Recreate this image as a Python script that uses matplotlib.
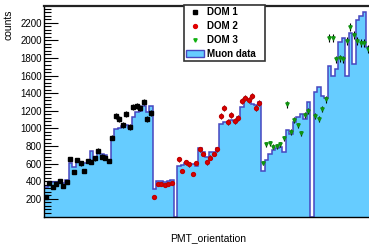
import matplotlib
matplotlib.use("Agg")
import matplotlib.pyplot as plt
import numpy as np
from matplotlib.lines import Line2D
from matplotlib.patches import Patch

plt.rcParams["font.family"] = ["Liberation Sans", "DejaVu Sans"]

# muon histogram, read bin by bin (0 = empty bin between the groups)
muon_g1 = [338, 394, 394, 394, 390, 380, 413, 603, 565, 630, 620, 603, 610, 746, 640, 717,
           710, 695, 645, 887, 990, 1000, 1027, 1040, 1010, 1133, 1190, 1200, 1254, 1190, 1254]
muon_g2 = [311, 400, 402, 395, 402, 420]
muon_g3 = [576, 585, 603, 596, 596, 570, 773, 735, 671, 735, 735, 773, 1050, 1070, 1075, 1100,
           1085, 1130, 1245, 1340, 1320, 1275, 1270, 1300]
muon_g4 = [520, 640, 710, 755, 775, 785, 735, 980, 935, 1075, 1135, 1165, 1110, 1295]
muon_g5 = [1410, 1475, 1368, 1342, 1709, 1600, 1675, 1980, 2030, 1600, 2080, 1730, 2230, 2280,
           2325, 1930]

dom1 = [217, 376, 331, 365, 405, 345, 394, 652, 508, 641, 603, 520, 633, 622, 660, 746, 678,
        667, 633, 894, 1144, 1110, 1042, 1163, 1019, 1239, 1258, 1228, 1303, 1103, 1178]
dom2_g2 = [226, 368, 368, 362, 365, 383]
dom2_g3 = [649, 520, 615, 592, 478, 610, 762, 709, 615, 667, 709, 762, 1144, 1235, 1069, 1152,
           1087, 1114, 1311, 1348, 1322, 1368, 1235, 1285]
dom3_g4 = [610, 822, 830, 792, 800, 822, 887, 1273, 959, 1095, 1035, 944, 1152, 1197]
dom3_g5 = [1140, 1103, 1216, 1330, 2030, 2023, 1785, 1796, 1785, 1996, 2148, 2061, 1996, 1973,
           1973, 1898]

y_ticks = [200, 400, 600, 800, 1000, 1200, 1400, 1600, 1800, 2000, 2200]

muon = np.array(muon_g1 + muon_g2 + [0] + muon_g3 + muon_g4 + [0] + muon_g5, dtype=float)
edges = np.arange(len(muon) + 1)
centers = edges[:-1] + 0.5

# bin positions of each DOM's points
n1, n2, n3, n4 = len(muon_g1), len(muon_g2), len(muon_g3), len(muon_g4)
s3 = n1 + n2 + 1
s5 = s3 + n3 + n4 + 1
x_dom1 = centers[:n1]
x_dom2 = np.concatenate([centers[n1:n1 + n2], centers[s3:s3 + n3]])
x_dom3 = np.concatenate([centers[s3 + n3:s3 + n3 + n4], centers[s5:]])
y_dom2 = np.array(dom2_g2 + dom2_g3, dtype=float)
y_dom3 = np.array(dom3_g4 + dom3_g5, dtype=float)
y_dom1 = np.array(dom1, dtype=float)

fig = plt.figure(figsize=(3.69, 2.44), dpi=100)
ax = fig.add_axes([44 / 369, 27.5 / 244, 94 * 3.5 / 369, 210.5 / 244])

fill_c = "#66ccff"
edge_c = "#4646c0"
ax.stairs(muon, edges, fill=True, color=fill_c, zorder=1)
ax.stairs(muon, edges, baseline=0, color=edge_c, lw=1.1, zorder=2)

ax.errorbar(x_dom1, y_dom1, yerr=np.sqrt(y_dom1), fmt="s", ms=3.2, color="black",
            ecolor="black", elinewidth=0.8, capsize=0, zorder=4)
ax.errorbar(x_dom2, y_dom2, yerr=np.sqrt(y_dom2), fmt="o", ms=2.8, color="#e00000",
            mec="#c00000", ecolor="#400000", elinewidth=0.8, capsize=0, zorder=4)
ax.errorbar(x_dom3, y_dom3, yerr=np.sqrt(y_dom3), fmt="v", ms=2.4, color="#10b010",
            mec="#109010", ecolor="black", elinewidth=0.8, capsize=0, zorder=4)

ax.set_xlim(0, 94)
ax.set_ylim(0, 2390)
ax.set_xticks([])
ax.set_yticks(y_ticks)
ax.set_yticks(np.arange(40, 2390, 40), minor=True)
ax.tick_params(axis="y", which="major", direction="in", length=10, width=0.8, labelsize=7, pad=1.5)
ax.tick_params(axis="y", which="minor", direction="in", length=5, width=0.8)
for side in ["left", "bottom"]:
    ax.spines[side].set_linewidth(1.0)
ax.spines["top"].set_linewidth(1.6)
ax.spines["top"].set_color("#222222")
ax.spines["right"].set_visible(False)

fig.text(8.5 / 369, 1 - 9 / 244, "counts", rotation=90, ha="center", va="top", fontsize=7.5)
fig.text(208 / 369, 1 - 238.5 / 244, "PMT_orientation", ha="center", va="center", fontsize=7.5)

handles = [
    Line2D([], [], ls="none", marker="s", ms=3.0, color="black"),
    Line2D([], [], ls="none", marker="o", ms=2.8, color="#e00000"),
    Line2D([], [], ls="none", marker="v", ms=2.4, color="#10b010"),
    Patch(facecolor=fill_c, edgecolor=edge_c, lw=1.0),
]
labels = ["DOM 1", "DOM 2", "DOM 3", "Muon data"]
leg = ax.legend(handles, labels, loc="upper left",
                bbox_to_anchor=(140 / 329, 0.75, 81 / 329, 0.255), mode="expand",
                borderaxespad=0, prop={"weight": "bold", "size": 7},
                labelspacing=0.4, borderpad=0.25, handlelength=1.8, handletextpad=0.3,
                fancybox=False, framealpha=1)
leg.get_frame().set_edgecolor("#333333")
leg.get_frame().set_linewidth(1.2)
leg.set_zorder(5)

fig.savefig("out.png", dpi=100)
